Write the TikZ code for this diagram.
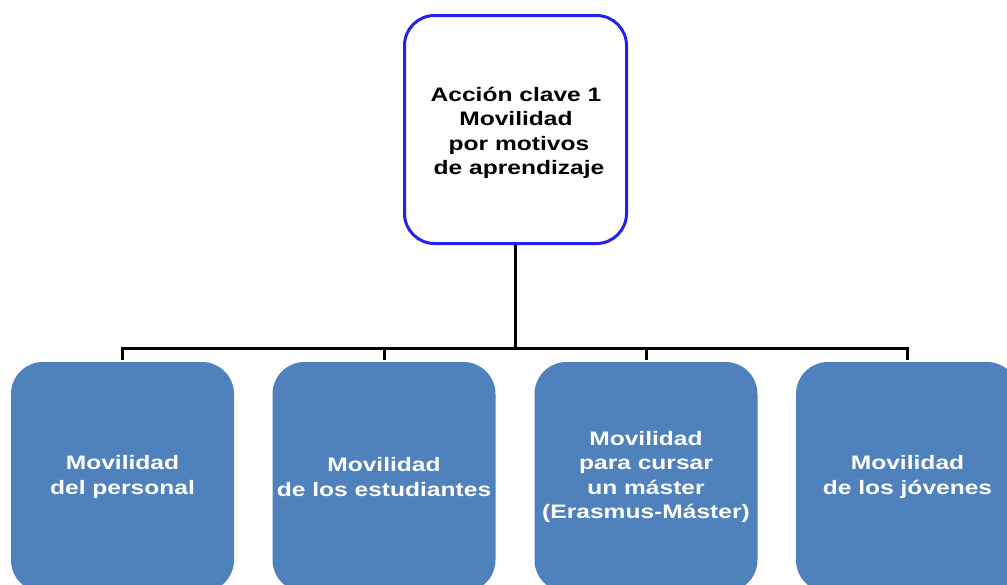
\documentclass[tikz,border=0pt]{standalone}
\usepackage{fontspec}
\newfontfamily\diagfont[FakeStretch=1.26]{Liberation Sans}
\definecolor{boxblue}{RGB}{79,129,189}
\definecolor{edgeblue}{RGB}{34,34,238}
\begin{document}
\begin{tikzpicture}[x=1pt,y=-1pt,
  labeltext/.style={font=\diagfont\bfseries\fontsize{19.5}{24.5}\selectfont, align=center},
  topbox/.style={labeltext, draw=edgeblue, line width=3pt, fill=white, rounded corners=30pt,
    minimum width=222pt, minimum height=228pt, inner sep=0pt},
  subbox/.style={labeltext, fill=boxblue, text=white, rounded corners=32pt,
    minimum width=223pt, minimum height=230pt, inner sep=0pt},
  conn/.style={line width=3pt, draw=black}]
\useasboundingbox (0,0) rectangle (1007,584);
\clip (0,0) rectangle (1007,584);
\node[topbox] (top) at (515.5,129.5) {};
\node[labeltext] (toptext) at (516,133) {Acción clave 1\\Movilidad\hspace*{6pt}\\\hspace*{6pt}por motivos\\\hspace*{6pt}de aprendizaje};
\node[subbox] (b1) at (122.5,477) {Movilidad\\del personal};
\node[subbox] (b2) at (384,477) {Movilidad\\de los estudiantes};
\node[subbox] (b3) at (646,477) {Movilidad\\para cursar\\un máster\\(Erasmus-Máster)};
\node[subbox] (b4) at (907.5,477) {Movilidad\\de los jóvenes};
\coordinate (bus) at (515.5,349);
\draw[conn] (top.south) -- (bus);
\draw[conn, shorten <=2pt, shorten >=2pt] (b1.north) -- ++(0,-13) -| (b4.north);
\draw[conn, shorten <=2pt] (b2.north) -- ++(0,-13);
\draw[conn, shorten <=2pt] (b3.north) -- ++(0,-13);
\end{tikzpicture}
\end{document}
